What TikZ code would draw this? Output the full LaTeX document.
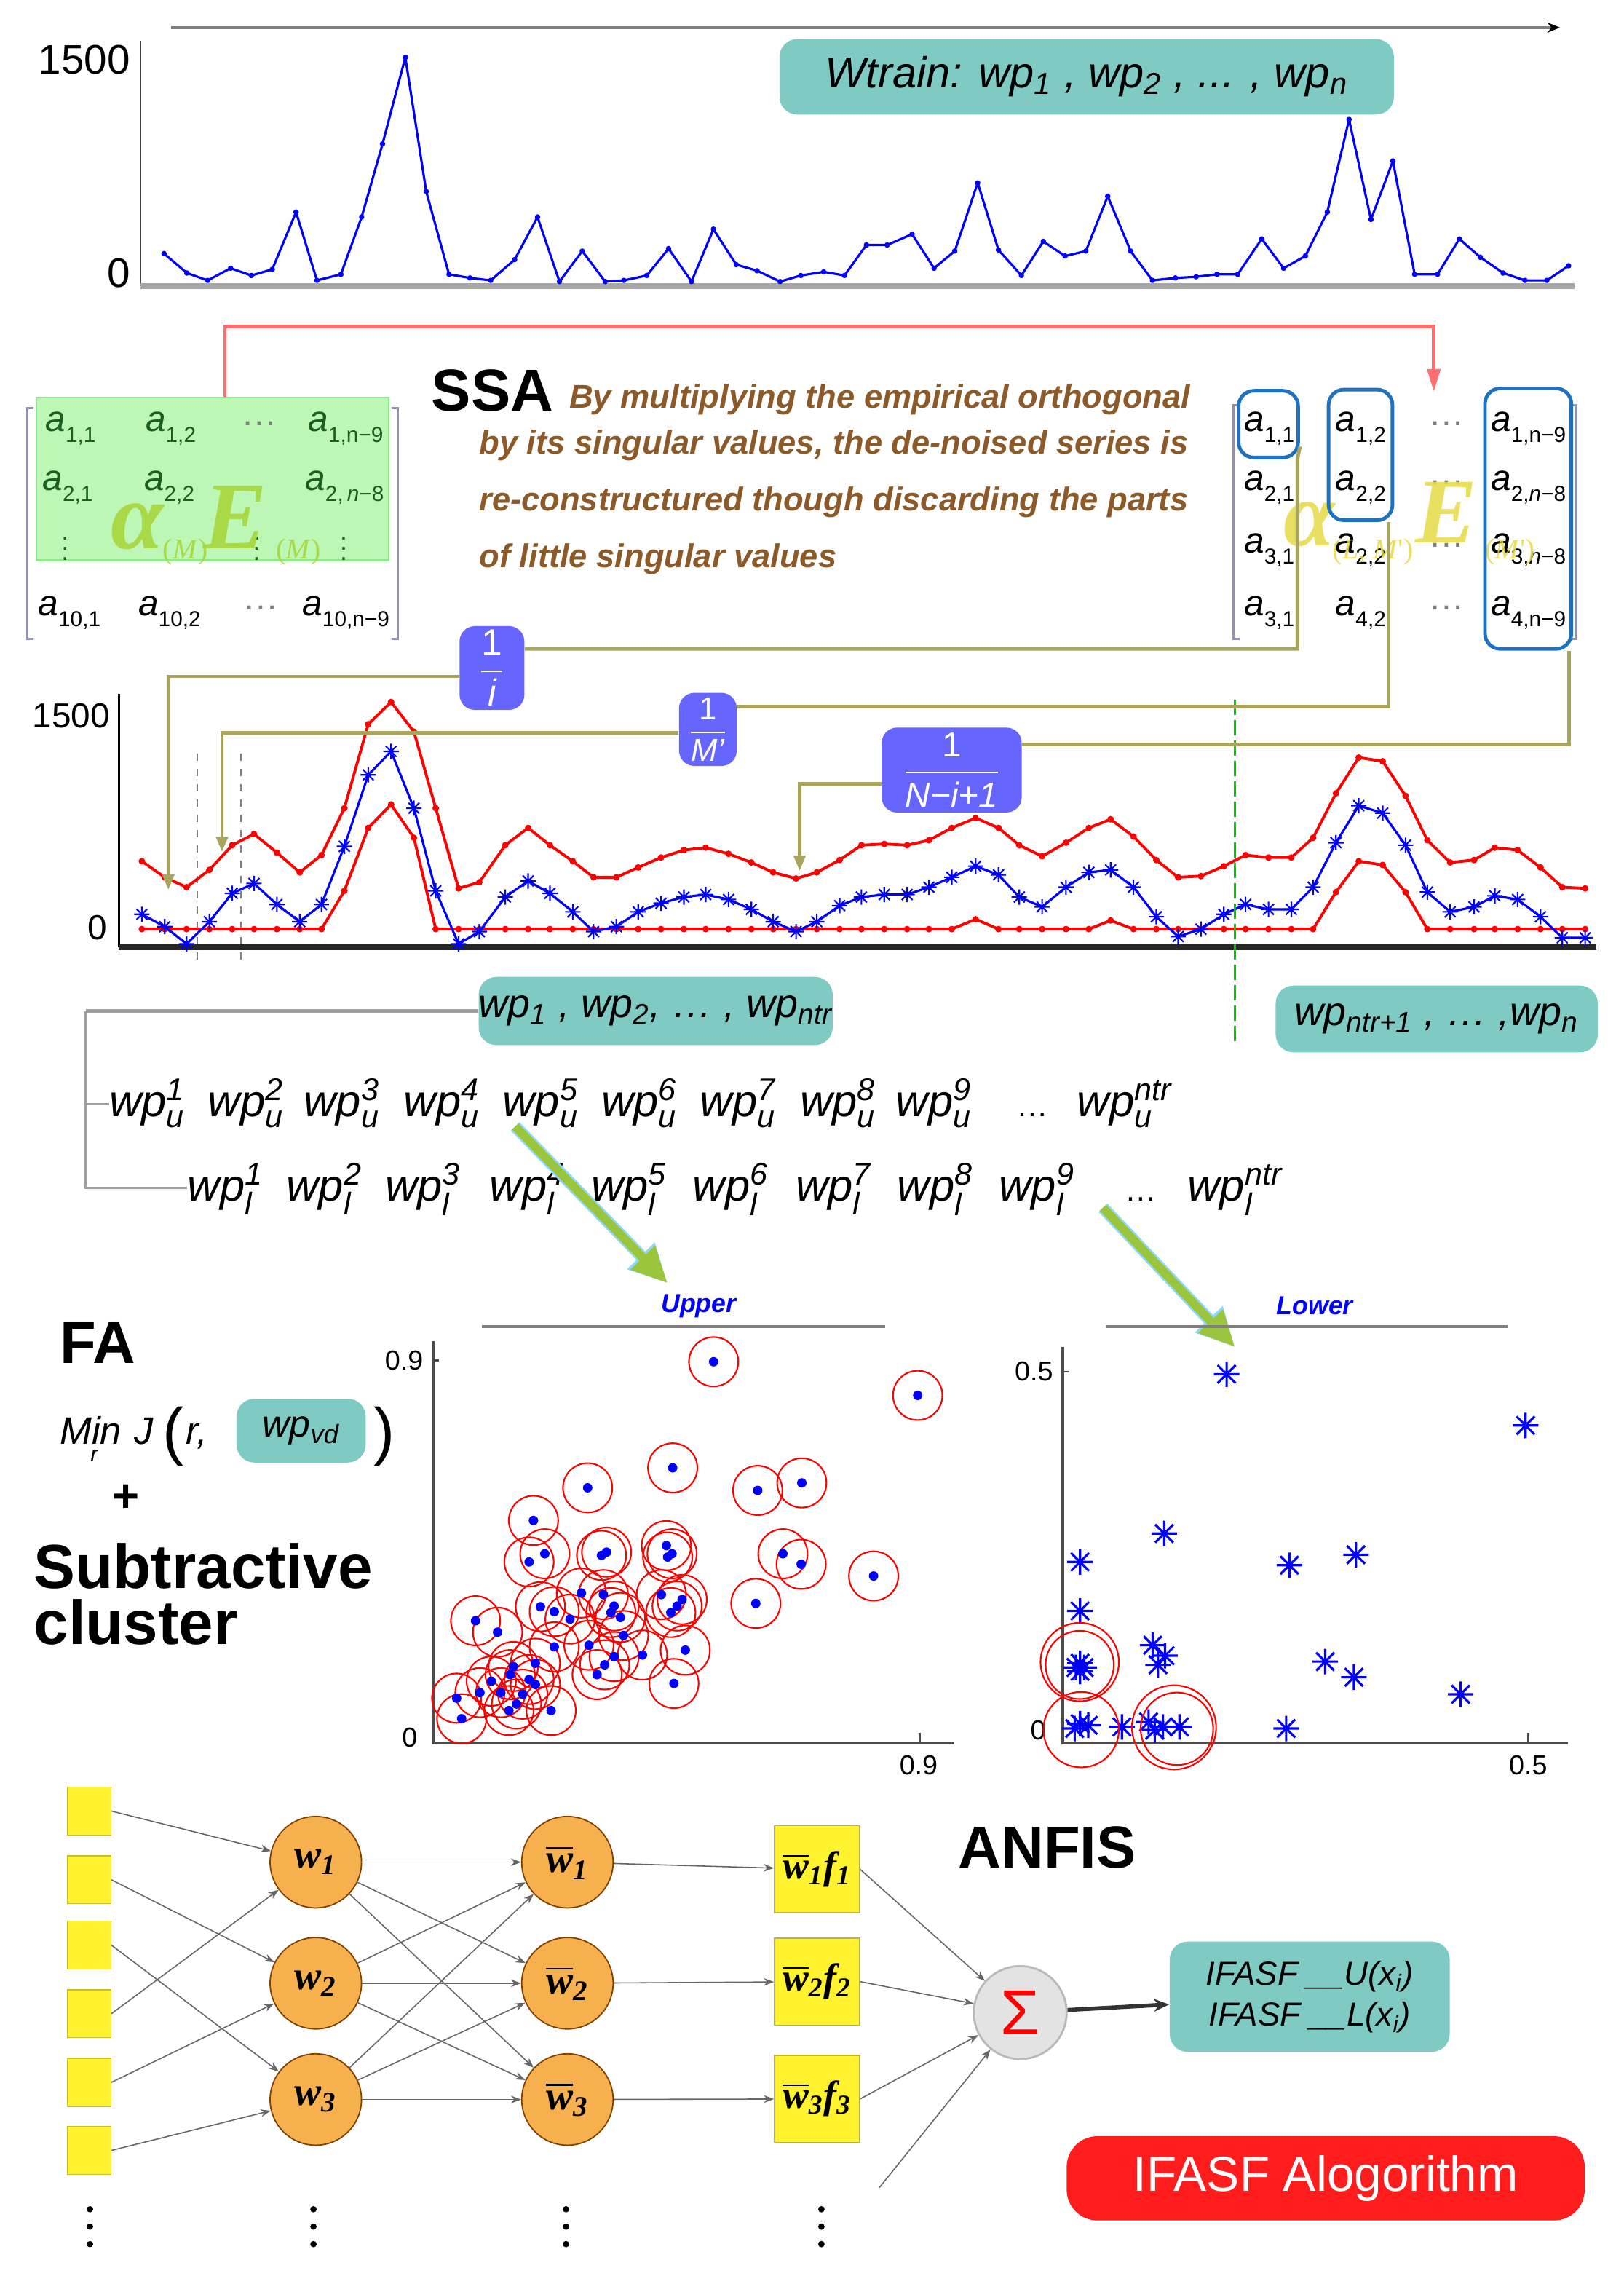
\documentclass[tikz,border=0pt]{standalone}
\usepackage{amsmath}
\usepackage{fontspec}
\setmainfont{Liberation Sans}
\newfontfamily\tms{Liberation Serif}
\usetikzlibrary{arrows.meta,plotmarks,calc}
\definecolor{tealc}{HTML}{7FCBC4}
\definecolor{brownt}{HTML}{8C5A28}
\definecolor{olivc}{HTML}{A9A45E}
\definecolor{boxblue}{HTML}{6666FF}
\definecolor{matblue}{HTML}{1F72C0}
\definecolor{greenfill}{HTML}{BDF7B5}
\definecolor{greenedge}{HTML}{8FE88A}
\definecolor{dkgreen}{HTML}{1B5E20}
\definecolor{ygreen}{HTML}{A8D63C}
\definecolor{yelov}{HTML}{E6DA46}
\definecolor{orangec}{HTML}{F6B04E}
\definecolor{yelbox}{HTML}{FFF22E}
\definecolor{salmonc}{HTML}{FF6E6E}
\definecolor{arrowg}{HTML}{9BC53D}
\definecolor{redbtn}{HTML}{FF1C1C}
\definecolor{brkc}{HTML}{9090B0}
\newcommand\fpx[1]{\fontsize{\fpeval{#1*0.567}}{\fpeval{#1*0.7}}\selectfont}
\newcommand\lsub[1]{\ensuremath{_{\text{#1}}}}
\newcommand\lsps[2]{\ensuremath{^{\text{#1}}_{\text{#2}}}}
\newcommand\msub[1]{\raisebox{-0.3em}{\fpx{15}#1}}
\pgfdeclareplotmark{mstar}{%
 \pgfpathmoveto{\pgfqpoint{-\pgfplotmarksize}{0pt}}\pgfpathlineto{\pgfqpoint{\pgfplotmarksize}{0pt}}%
 \pgfpathmoveto{\pgfqpoint{0pt}{-\pgfplotmarksize}}\pgfpathlineto{\pgfqpoint{0pt}{\pgfplotmarksize}}%
 \pgfpathmoveto{\pgfqpoint{-.7071\pgfplotmarksize}{-.7071\pgfplotmarksize}}\pgfpathlineto{\pgfqpoint{.7071\pgfplotmarksize}{.7071\pgfplotmarksize}}%
 \pgfpathmoveto{\pgfqpoint{-.7071\pgfplotmarksize}{.7071\pgfplotmarksize}}\pgfpathlineto{\pgfqpoint{.7071\pgfplotmarksize}{-.7071\pgfplotmarksize}}%
 \pgfusepathqstroke}
\begin{document}
\begin{tikzpicture}[x=0.02cm,y=-0.02cm,
  tealbox/.style={fill=tealc, rounded corners=7pt, inner sep=0pt},
  fracbox/.style={fill=boxblue, rounded corners=6pt, text=white, inner sep=0pt},
  oliv/.style={draw=olivc, line width=1.4pt},
  olivarrow/.style={oliv, -{Triangle[length=6pt,width=4.5pt]}},
  mbox/.style={draw=matblue, line width=1.4pt, rounded corners=6pt, inner sep=0pt},
  ent/.style={anchor=base west, inner sep=0pt, font=\fpx{25}},
  wpt/.style={anchor=base west, inner sep=0pt, font=\itshape\fpx{31}},
  lbl/.style={inner sep=0pt},
  brn/.style={anchor=base west, inner sep=0pt, text=brownt, font=\bfseries\itshape\fpx{22.8}},
  conn/.style={draw=black!60, line width=0.45pt, -{Stealth[length=4pt,width=3pt]}},
  insq/.style={fill=yelbox, draw=yellow!75!black, line width=0.4pt, minimum width=0.6cm, minimum height=0.66cm, inner sep=0pt},
  orc/.style={circle, fill=orangec, draw=orange!50!black, line width=0.5pt, minimum size=1.26cm, inner sep=0pt, font=\tms\bfseries\itshape\fpx{28}},
  fbx/.style={fill=yelbox, draw=yellow!70!black, line width=0.5pt, minimum width=1.17cm, minimum height=1.2cm, inner sep=0pt, font=\tms\bfseries\itshape\fpx{27}},
  brk/.style={draw=brkc, line width=0.8pt}
]
\useasboundingbox (0,0) rectangle (1119,1568);
\fill[white] (0,0) rectangle (1119,1568);

%% ---------------- top plot
\coordinate (ta1) at (118,19);
\coordinate (ta2) at (1075,19);
\draw[gray, line width=1.3pt, -{Stealth[length=5pt,width=4pt,color=black]}] (ta1) -- (ta2);
\coordinate (tO) at (97,197); \coordinate (tY) at (97,28); \coordinate (tX) at (1085,197);
\draw[black!75, line width=0.6pt] (tY) -- (tO);
\draw[gray!70, line width=2.2pt] (tO) -- (tX);
\node[lbl, font=\fpx{28.5}, anchor=east] (t1500) at (90,41) {1500};
\node[lbl, font=\fpx{28.5}, anchor=east] (t0) at (90,188) {0};
\draw[blue, line width=0.9pt, line join=round] plot[mark=*, mark size=0.6pt] coordinates {
(113,174.7) (128.8,188.1) (143.1,193.2) (158.9,184.8) (173.2,189.8) (187.6,185.6) (204,146.1) (218.4,193.2) (234.9,189) (249.2,149.5) (263.6,99.1) (279.3,39.5) (293.7,131.9) (309.4,189) (323.8,191.5) (338.1,193.2) (354.6,178.9) (370.4,149.5) (385.5,194) (401.2,173) (417,194) (429.9,193.2) (445.7,189.8) (460.7,171.3) (476.5,194) (491.6,157.9) (507.3,182.3) (521.7,186.5) (537.5,194) (551.8,189.8) (567.6,187.3) (581.9,189.8) (597,168.8) (611.3,168.8) (628.5,161.3) (643.6,184.8) (657.9,173) (673.7,126) (688,172.2) (703.8,189.8) (718.9,166.3) (733.9,176.4) (748.2,173) (763.3,135.2) (779.1,173) (794.1,193.2) (809.9,191.5) (824.2,190.7) (838.6,189) (852.9,189) (869.4,164.6) (884.5,184.8) (899.5,176.4) (914.6,146.1) (929.6,82.3) (944.7,151.2) (959.8,110.9) (974.8,189) (990.6,189) (1005.6,164.6) (1020,177.2) (1035.8,188.1) (1050.8,193.2) (1065.9,193.2) (1080.9,183.1)};
\node[tealbox, minimum width=8.47cm, minimum height=1.04cm, font=\itshape\fpx{30}] (wtrain) at (748.8,52.9) {Wtrain: wp\lsub{1} , wp\lsub{2} , ... , wp\lsub{n}};

%% ---------------- left matrix
\node[fill=greenfill, draw=greenedge, line width=0.6pt, minimum width=4.86cm, minimum height=2.24cm, inner sep=0pt] (gbox) at (146.5,330) {};
\draw[brk] (23,281) -- (19,281) -- (19,440) -- (23,440);
\draw[brk] (270,281) -- (274,281) -- (274,440) -- (270,440);
\node[ent, text=dkgreen] (la11) at (31,297) {\textit{a}\msub{1,1}};
\node[ent, text=dkgreen] (la12) at (100,297) {\textit{a}\msub{1,2}};
\node[ent, text=gray] (ld1) at (166,293) {…};
\node[ent, text=dkgreen] (la1n) at (212,297) {\textit{a}\msub{1,n−9}};
\node[ent, text=dkgreen] (la21) at (29,338) {\textit{a}\msub{2,1}};
\node[ent, text=dkgreen] (la22) at (99,338) {\textit{a}\msub{2,2}};
\node[ent, text=dkgreen] (la2n) at (210,338) {\textit{a}\msub{2,\,\textit{n}−8}};
\node[ent, text=dkgreen, font=\fpx{18}] (lv1) at (42,386) {$\vdots$};
\node[ent, text=dkgreen, font=\fpx{18}] (lv2) at (174,386) {$\vdots$};
\node[ent, text=dkgreen, font=\fpx{18}] (lv3) at (234,386) {$\vdots$};
\node[ent] (la41) at (26,424) {\textit{a}\msub{10,1}};
\node[ent] (la42) at (95,424) {\textit{a}\msub{10,2}};
\node[ent, text=gray] (ld4) at (167,420) {…};
\node[ent] (la4n) at (208,424) {\textit{a}\msub{10,n−9}};
\node[ent, text=ygreen, opacity=0.9, font=\tms\bfseries\itshape\fpx{66}] (lal) at (76,378) {α};
\node[ent, text=ygreen, opacity=0.9, font=\tms\fpx{20}] (lals) at (112,385) {(\textit{M})};
\node[ent, text=ygreen, opacity=0.9, font=\tms\bfseries\itshape\fpx{66}] (lE) at (140,378) {E};
\node[ent, text=ygreen, opacity=0.9, font=\tms\fpx{20}] (lEs) at (190,385) {(\textit{M})};

%% ---------------- red connector
\coordinate (r1) at (155,225); \coordinate (r2) at (988,225); \coordinate (r3) at (988,270);
\draw[salmonc, line width=1.4pt, -{Triangle[length=9pt,width=5pt]}] (gbox.north -| r1) -- (r1) -- (r2) -- (r3);

%% ---------------- SSA text
\node[anchor=base west, inner sep=0pt, font=\bfseries\fpx{41}] (ssa) at (297,283) {SSA};
\node[brn] (b1) at (392,281) {By multiplying the empirical orthogonal};
\node[brn] (b2) at (330,312.6) {by its singular values, the de-noised series is};
\node[brn] (b3) at (330,352) {re-constructured though discarding the parts};
\node[brn] (b4) at (330,391) {of little singular values};

%% ---------------- right matrix
\draw[brk] (854,279) -- (850,279) -- (850,440) -- (854,440);
\draw[brk] (1082,279) -- (1086,279) -- (1086,440) -- (1082,440);
\node[ent] (ra11) at (857,297) {\textit{a}\msub{1,1}};
\node[ent] (ra12) at (920,297) {\textit{a}\msub{1,2}};
\node[ent, text=gray] (rd1) at (984,293) {…};
\node[ent] (ra1n) at (1027,297) {\textit{a}\msub{1,n−9}};
\node[ent] (ra21) at (857,338) {\textit{a}\msub{2,1}};
\node[ent] (ra22) at (920,338) {\textit{a}\msub{2,2}};
\node[ent, text=gray] (rd2) at (984,334) {…};
\node[ent] (ra2n) at (1027,338) {\textit{a}\msub{2,\textit{n}−8}};
\node[ent] (ra31) at (857,381) {\textit{a}\msub{3,1}};
\node[ent] (ra32) at (920,381) {\textit{a}\msub{2,2}};
\node[ent, text=gray] (rd3) at (984,377) {…};
\node[ent] (ra3n) at (1027,381) {\textit{a}\msub{3,\textit{n}−8}};
\node[ent] (ra41) at (857,424) {\textit{a}\msub{3,1}};
\node[ent] (ra42) at (920,424) {\textit{a}\msub{4,2}};
\node[ent, text=gray] (rd4) at (984,420) {…};
\node[ent] (ra4n) at (1027,424) {\textit{a}\msub{4,n−9}};
\node[ent, text=yelov, opacity=0.85, font=\tms\bfseries\itshape\fpx{64}] (ral) at (884,376) {α};
\node[ent, text=yelov, opacity=0.85, font=\tms\fpx{20}] (rals) at (918,385) {(\textit{L}, \textit{M}')};
\node[ent, text=yelov, opacity=0.85, font=\tms\bfseries\itshape\fpx{64}] (rE) at (975,374) {E};
\node[ent, text=yelov, opacity=0.85, font=\tms\fpx{20}] (rEs) at (1023,385) {(\textit{M}')};
\node[mbox, minimum width=0.82cm, minimum height=0.92cm] (rb1) at (874,292.2) {};
\node[mbox, minimum width=0.88cm, minimum height=1.8cm] (rb2) at (937.5,313.4) {};
\node[mbox, minimum width=1.19cm, minimum height=3.59cm] (rb3) at (1053,357.3) {};

%% ---------------- fraction boxes
\node[fracbox, minimum width=0.894cm, minimum height=1.154cm, font=\fpx{26}] (fi) at (339,460.2) {$\dfrac{\text{1}}{\text{\itshape i}}$};
\node[fracbox, minimum width=0.794cm, minimum height=1.008cm, font=\fpx{22}] (fM) at (487.8,502.5) {$\dfrac{\text{1}}{\text{\itshape M'}}$};
\node[fracbox, minimum width=1.93cm, minimum height=1.17cm, font=\fpx{24}] (fN) at (655.8,530.5) {$\dfrac{\text{1}}{\text{\itshape N−i+1}}$};

%% ---------------- middle plot
\coordinate (mO) at (82,652.5); \coordinate (mY) at (82,478); \coordinate (mX) at (1100,652.5);
\draw[black, line width=0.6pt] (mY) -- (mO);
\draw[black!85, line width=2.4pt] (mO) -- (mX);
\node[lbl, font=\fpx{24}, anchor=east] (m1500) at (76,493) {1500};
\node[lbl, font=\fpx{24}, anchor=east] (m0) at (74,639) {0};
\coordinate (dA1) at (136,519); \coordinate (dA2) at (136,665);
\coordinate (dB1) at (166,519); \coordinate (dB2) at (166,665);
\draw[gray, line width=0.5pt, dashed] (dA1) -- (dA2);
\draw[gray, line width=0.5pt, dashed] (dB1) -- (dB2);
\begin{scope}[x=0.014306cm, y=-0.0034cm, shift={(-0.048cm,-8.96cm)}]
\draw[red, line width=1.1pt] plot[mark=*, mark size=0.7pt] coordinates {
(140,855)(162,920)(183,960)(205,890)(227,790)(248,745)(270,820)(292,900)(313,830)(335,640)(358,300)(380,210)(402,330)(423,640)(445,965)(465,940)(490,790)(512,720)(533,790)(555,855)(575,920)(597,920)(618,880)(640,840)(662,810)(683,800)(705,825)(727,860)(748,900)(770,925)(790,900)(812,850)(833,790)(855,785)(877,790)(898,770)(920,720)(943,680)(965,720)(985,790)(1007,835)(1030,780)(1052,720)(1073,685)(1095,755)(1117,850)(1138,920)(1160,915)(1182,875)(1203,830)(1225,840)(1247,840)(1268,760)(1290,580)(1312,435)(1335,450)(1357,590)(1378,770)(1400,860)(1423,850)(1443,800)(1465,810)(1487,880)(1508,960)(1530,965)};
\draw[red, line width=1.1pt] plot[mark=*, mark size=0.7pt] coordinates {
(140,1130)(162,1130)(183,1130)(205,1130)(227,1130)(248,1130)(270,1130)(292,1130)(313,1130)(335,975)(358,720)(380,625)(402,760)(423,1130)(445,1130)(465,1130)(490,1130)(512,1130)(533,1130)(555,1130)(575,1130)(597,1130)(618,1130)(640,1130)(662,1130)(683,1130)(705,1130)(727,1130)(748,1130)(770,1130)(790,1130)(812,1130)(833,1130)(855,1130)(877,1130)(898,1130)(920,1130)(943,1090)(965,1130)(985,1130)(1007,1130)(1030,1130)(1052,1130)(1073,1095)(1095,1130)(1117,1130)(1138,1130)(1160,1130)(1182,1130)(1203,1130)(1225,1130)(1247,1130)(1268,1130)(1290,980)(1312,855)(1335,870)(1357,980)(1378,1130)(1400,1130)(1423,1130)(1443,1130)(1465,1130)(1487,1130)(1508,1130)(1530,1130)};
\draw[blue, line width=0.9pt] plot[mark=mstar, mark size=3pt, mark options={line width=0.6pt}] coordinates {
(140,1070)(162,1120)(183,1190)(205,1100)(227,985)(248,945)(270,1030)(292,1100)(313,1030)(335,795)(358,505)(380,410)(402,640)(423,975)(445,1190)(465,1140)(490,1000)(512,935)(533,985)(555,1060)(575,1140)(597,1120)(618,1060)(640,1025)(662,1000)(683,990)(705,1010)(727,1050)(748,1100)(770,1140)(790,1100)(812,1035)(833,1000)(855,990)(877,990)(898,960)(920,920)(943,875)(965,910)(985,1000)(1007,1040)(1030,960)(1052,900)(1073,890)(1095,960)(1117,1080)(1138,1160)(1160,1130)(1182,1070)(1203,1030)(1225,1050)(1247,1050)(1268,960)(1290,780)(1312,630)(1335,660)(1357,790)(1378,980)(1400,1060)(1423,1040)(1443,995)(1465,1010)(1487,1080)(1508,1165)(1530,1165)};
\end{scope}
\coordinate (gd1) at (851,482); \coordinate (gd2) at (851,720);
\draw[green!80!black, line width=0.8pt, dash pattern=on 6pt off 2pt] (gd1) -- (gd2);

%% ---------------- olive connectors
\coordinate (o1) at (894,447); \coordinate (o2) at (957,487); \coordinate (o3) at (1081,513);
\draw[oliv] ([yshift=5pt]rb1.south east) -- (rb1.south east -| o1) -- (o1) -- (fi.east |- o1);
\draw[oliv] (rb2.south -| o2) -- (o2) -- (fM.east |- o2);
\draw[oliv] (rb3.south -| o3) -- (o3) -- (fN.east |- o3);
\coordinate (q1) at (116,466); \coordinate (p1) at (116,613);
\coordinate (q2) at (153,505); \coordinate (p2) at (153,587);
\coordinate (q3) at (551,540); \coordinate (p3) at (551,600);
\draw[olivarrow] (fi.west |- q1) -- (q1) -- (p1);
\draw[olivarrow] (fM.west |- q2) -- (q2) -- (p2);
\draw[olivarrow] (fN.west |- q3) -- (q3) -- (p3);

%% ---------------- wp boxes and rows
\node[tealbox, minimum width=4.87cm, minimum height=0.94cm, font=\itshape\fpx{28}] (wpbox) at (451.8,696.5) {wp\lsub{1} , wp\lsub{2}, … , wp\lsub{ntr}};
\node[tealbox, minimum width=4.44cm, minimum height=0.92cm, font=\itshape\fpx{28}] (wpbox2) at (990,702) {wp\lsub{ntr+1} , … ,wp\lsub{n}};
\foreach \i/\xx in {1/75,2/143,3/209,4/278,5/346,6/414,7/482,8/551,9/617}
  \node[wpt] (wu\i) at (\xx,769) {wp\lsps{\i}{u}};
\node[wpt, font=\fpx{22}] (wudots) at (700,769) {…};
\node[wpt] (wun) at (742,769) {wp\lsps{ntr}{u}};
\foreach \i/\xx in {1/129,2/197,3/265,4/337,5/407,6/477,7/548,8/618,9/688}
  \node[wpt] (wl\i) at (\xx,827.6) {wp\lsps{\i}{l}};
\node[wpt, font=\fpx{22}] (wldots) at (775,827.6) {…};
\node[wpt] (wln) at (818,827.6) {wp\lsps{ntr}{l}};
\coordinate (g1) at (59,696.5); \coordinate (g2) at (59,818.3); \coordinate (g3) at (59,760.5);
\draw[gray!75, line width=1.4pt] (wpbox.west) -- (g1);
\draw[gray!75, line width=0.8pt] (g1) -- (g2) -- (g2 -| wl1.west);
\draw[gray!75, line width=0.8pt] (g3) -- (g3 -| wu1.west);

%% ---------------- green arrows
\coordinate (ga1) at (355,776); \coordinate (ga2) at (460,884);
\coordinate (gb1) at (760,832); \coordinate (gb2) at (851,928);
\draw[cyan!45, line width=4.8pt, -{Triangle[length=15pt,width=14pt]}] (ga1) -- (ga2);
\draw[arrowg, line width=3.4pt, -{Triangle[length=14pt,width=12.5pt]}] (ga1) -- (ga2);
\draw[cyan!45, line width=4.8pt, -{Triangle[length=15pt,width=14pt]}] (gb1) -- (gb2);
\draw[arrowg, line width=3.4pt, -{Triangle[length=14pt,width=12.5pt]}] (gb1) -- (gb2);

%% ---------------- FA block
\node[anchor=base west, inner sep=0pt, font=\bfseries\fpx{41}] (fa) at (41,939) {FA};
\node[anchor=base west, inner sep=0pt, font=\itshape\fpx{26.5}] (mn) at (41,995) {Min};
\node[anchor=base west, inner sep=0pt, font=\itshape\fpx{15}] (mnr) at (62,1007) {r};
\node[anchor=base west, inner sep=0pt, font=\itshape\fpx{26.5}] (jj) at (92,995) {J};
\node[anchor=base west, inner sep=0pt, font=\fpx{44}] (lp) at (112,1001) {(};
\node[anchor=base west, inner sep=0pt, font=\itshape\fpx{26.5}] (rr) at (128,995) {r,};
\node[tealbox, minimum width=1.78cm, minimum height=0.88cm, font=\itshape\fpx{26}] (wpvd) at (207.5,985.6) {wp\lsub{vd}};
\node[anchor=base west, inner sep=0pt, font=\fpx{44}] (rp) at (257,1001) {)};
\node[inner sep=0pt, font=\bfseries\fpx{32}] (plus) at (87,1032) {+};
\node[anchor=base west, inner sep=0pt, font=\bfseries\fpx{43}] (sub1) at (23,1094) {Subtractive};
\node[anchor=base west, inner sep=0pt, font=\bfseries\fpx{43}] (sub2) at (23,1133) {cluster};

%% ---------------- upper scatter
\node[lbl, text=blue, font=\bfseries\itshape\fpx{18}] (upl) at (481.5,899.6) {Upper};
\coordinate (ut1) at (332,913.8); \coordinate (ut2) at (610,913.8);
\draw[gray, line width=1pt] (ut1) -- (ut2);
\coordinate (uO) at (298.6,1201); \coordinate (uY) at (298.6,924); \coordinate (uX) at (657.5,1201);
\draw[black!70, line width=1.1pt] (uY) -- (uO) -- (uX);
\coordinate (uty) at (298.6,937.2); \coordinate (utx) at (633.6,1201);
\draw[black!70, line width=0.8pt] (uty) -- ++(4,0);
\draw[black!70, line width=0.8pt] (utx) -- ++(0,-7);
\node[lbl, font=\fpx{19}, anchor=east] (uy9) at (292,937.2) {0.9};
\node[lbl, font=\fpx{19}, anchor=east] (uy0) at (288,1197) {0};
\node[lbl, font=\fpx{19}] (ux9) at (633,1216) {0.9};
\begin{scope}[x=0.00868cm, y=-0.0045cm, shift={(0cm,-17.452cm)}]
\foreach \xa/\ya in {1133/292,1457/395,1068/617,933/678,1203/686,1273/663,847/778,840/905,865/880,955/885,963/875,1058/855,1067/880,1060/890,1243/880,1272/912,1387/948,1200/1032,858/1042,880/1057,905/1080,923/1000,958/1005,975/1040,970/1060,985/1075,990/1130,1050/1005,1083/1020,1075/1040,1065/1060,755/1085,790/1120,880/1165,935/1160,1020/1190,1088/1175,948/1250,960/1220,975/1195,850/1215,815/1225,810/1250,840/1265,850/1280,780/1270,762/1305,795/1305,830/1310,820/1340,808/1360,725/1322,733/1385,875/1360,1070/1277}
  \draw[red, line width=0.6pt] (\xa,\ya) circle[radius=0.34cm];
\foreach \xa/\ya in {1133/292,1457/395,1068/617,933/678,1203/686,1273/663,847/778,840/905,865/880,955/885,963/875,1058/855,1067/880,1060/890,1243/880,1272/912,1387/948,1200/1032,858/1042,880/1057,905/1080,923/1000,958/1005,975/1040,970/1060,985/1075,990/1130,1050/1005,1083/1020,1075/1040,1065/1060,755/1085,790/1120,880/1165,935/1160,1020/1190,1088/1175,948/1250,960/1220,975/1195,850/1215,815/1225,810/1250,840/1265,850/1280,780/1270,762/1305,795/1305,830/1310,820/1340,808/1360,725/1322,733/1385,875/1360,1070/1277}
  \fill[blue] (\xa,\ya) circle[radius=0.065cm];
\end{scope}

%% ---------------- lower scatter
\node[lbl, text=blue, font=\bfseries\itshape\fpx{18}] (lol) at (906,899.6) {Lower};
\coordinate (lt1) at (762,913.8); \coordinate (lt2) at (1039,913.8);
\draw[gray, line width=1pt] (lt1) -- (lt2);
\coordinate (lO) at (732.2,1201); \coordinate (lY) at (732.2,927.7); \coordinate (lX) at (1080.6,1201);
\draw[black!70, line width=1.1pt] (lY) -- (lO) -- (lX);
\coordinate (lty) at (732.2,945); \coordinate (ltx) at (1053,1201);
\draw[black!70, line width=0.8pt] (lty) -- ++(4,0);
\draw[black!70, line width=0.8pt] (ltx) -- ++(0,-7);
\node[lbl, font=\fpx{19}, anchor=east] (ly5) at (726,945) {0.5};
\node[lbl, font=\fpx{19}, anchor=east] (ly0) at (721,1192) {0};
\node[lbl, font=\fpx{19}] (lx5) at (1053,1216) {0.5};
\begin{scope}[x=0.005664cm, y=-0.0045cm, shift={(13.54cm,-17.452cm)}]
\draw[blue] plot[only marks, mark=mstar, mark size=5pt, mark options={line width=0.9pt}] coordinates {
(595,330) (1323,487) (443,818) (238,905) (748,915) (910,883) (238,1055) (238,1215) (238,1240) (228,1228) (248,1228) (415,1160) (445,1192) (428,1220) (835,1210) (905,1258) (1165,1310) (238,1400) (258,1405) (340,1410) (405,1395) (440,1410) (480,1410) (740,1415) (225,1415) (420,1420)};
\end{scope}
\draw[red, line width=0.6pt] (744,1145) circle[radius=0.54cm];
\draw[red, line width=0.6pt] (744,1147) circle[radius=0.47cm];
\draw[red, line width=0.6pt] (745,1191.6) circle[radius=0.52cm];
\draw[red, line width=0.6pt] (809,1190) circle[radius=0.58cm];
\draw[red, line width=0.6pt] (811,1191) circle[radius=0.5cm];

%% ---------------- ANFIS
\foreach \i/\yy in {1/1247.7,2/1295,3/1340,4/1387.3,5/1434.6,6/1481.5}
  \node[insq] (s\i) at (61.4,\yy) {};
\foreach \i/\yy in {1/1282.9,2/1366.3,3/1446.4}{
  \node[orc] (c1\i) at (217.6,\yy) {w\lsub{\i}};
  \node[orc] (c2\i) at (391,\yy) {\ensuremath{\overline{\text{w}}}\lsub{\i}};
}
\foreach \i/\yy in {1/1287.8,2/1365.2,3/1446}
  \node[fbx] (fr\i) at (563,\yy) {\ensuremath{\overline{\text{w}}}\lsub{\i}f\lsub{\i}};
\node[circle, fill=gray!22, draw=gray!55, line width=0.8pt, minimum size=1.28cm, inner sep=0pt, text=red, font=\fpx{44}] (sig) at (703,1386.5) {Σ};
\node[tealbox, minimum width=3.86cm, minimum height=1.52cm, align=center, font=\itshape\fpx{23}] (outb) at (902.5,1375.6) {IFASF \_\_U(x\lsub{i})\\IFASF \_\_L(x\lsub{i})};
\node[fill=redbtn, rounded corners=12pt, minimum width=7.14cm, minimum height=1.16cm, text=white, font=\fpx{34}] (algb) at (913.5,1500.7) {IFASF Alogorithm};
\node[anchor=base west, inner sep=0pt, font=\bfseries\fpx{41}] (anfis) at (660,1287) {ANFIS};
\foreach \a/\b in {1/1,2/2,3/3,4/1,5/2,6/3}
  \draw[conn] (s\a.east) -- (c1\b);
\foreach \a in {1,2,3}{
  \foreach \b in {1,2,3}
    \draw[conn] (c1\a) -- (c2\b);
}
\foreach \a in {1,2,3}{
  \draw[conn] (c2\a) -- (fr\a);
  \draw[conn] (fr\a.east) -- (sig);
}
\coordinate (xf) at (606,1507);
\draw[conn] (xf) -- (sig);
\draw[black!80, line width=1.6pt, -{Stealth[length=6pt,width=5pt]}] (sig) -- (outb);
\foreach \xx in {62,216,390,566}{
  \foreach \yy in {1522,1534,1546}
    \fill[black] (\xx,\yy) circle[radius=2.2];
}
\end{tikzpicture}
\end{document}
